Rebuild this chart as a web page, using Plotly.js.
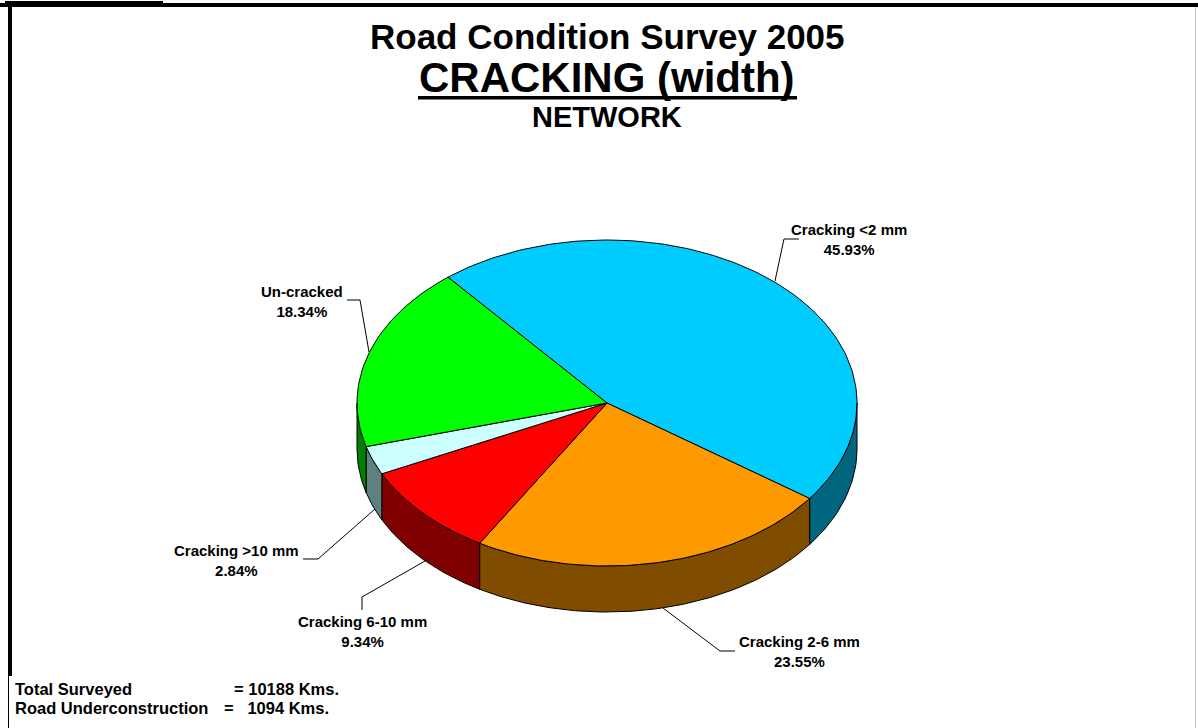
<!DOCTYPE html>
<html>
<head>
<meta charset="utf-8">
<script src="https://cdn.plot.ly/plotly-3.0.1.min.js"></script>
<style>html,body{margin:0;padding:0;background:#fff;}#chart{width:1198px;height:728px;}</style>
</head>
<body>
<div id="chart"></div>
<script>
// ---- data ----
const categories = ['Cracking <2 mm', 'Cracking 2-6 mm', 'Cracking 6-10 mm', 'Cracking >10 mm', 'Un-cracked'];
const percents = [45.93, 23.55, 9.34, 2.84, 18.34];
const topColors = ['#00CCFF', '#FF9900', '#FF0000', '#CCFFFF', '#00FF00'];
const sideColors = ['#006680', '#7F4C00', '#800000', '#5F8080', '#008000'];
const titleLines = ['Road Condition Survey 2005', 'CRACKING (width)', 'NETWORK'];
const footerLabels = ['Total Surveyed', 'Road Underconstruction'];
const footerValues = ['= 10188 Kms.', '=   1094 Kms.'];

// ---- geometry (pixels of the 1198x728 page) ----
const W = 1198, H = 728;
const CX = 607, CY = 403, R = 250, K = 163 / 250, DEPTH = 46 / 250, START = 129.5;
const ux = p => (p - CX) / R;
const uy = p => (CY - p) / R;
const deg = Math.PI / 180;

// label placement: text centre and leader polyline (pixels)
const labelGeom = [
  {tx: 849, ty: 240, line: [[775, 281], [784, 239], [799, 239]]},
  {tx: 799, ty: 651, line: [[663, 608], [720, 651], [735, 651]]},
  {tx: 362, ty: 631, line: [[425, 561], [362, 597], [362, 610]]},
  {tx: 237, ty: 560, line: [[375, 509], [318, 559], [303, 559]]},
  {tx: 302, ty: 301, line: [[369, 352], [360, 300], [347, 300]]}
];

const traces = [];
const sideTraces = [];
const topTraces = [];
let cum = 0;
const total = percents.reduce((a, b) => a + b, 0);
percents.forEach((v, i) => {
  const a1 = START - cum / total * 360;
  const a2 = a1 - v / total * 360;
  cum += v;
  // top face
  const xs = [0], ys = [0];
  const n = Math.max(2, Math.ceil((a1 - a2)));
  for (let j = 0; j <= n; j++) {
    const t = (a1 - (a1 - a2) * j / n) * deg;
    xs.push(Math.cos(t)); ys.push(K * Math.sin(t));
  }
  xs.push(0); ys.push(0);
  topTraces.push({type: 'scatter', mode: 'lines', x: xs, y: ys, fill: 'toself',
    fillcolor: topColors[i], line: {color: '#000', width: 1}, hoverinfo: 'skip', name: categories[i]});
  // visible front side wall
  const hi = Math.min(a1, 0), lo = Math.max(a2, -180);
  if (lo < hi) {
    const sx = [], sy = [];
    const m = Math.max(2, Math.ceil(hi - lo));
    for (let j = 0; j <= m; j++) {
      const t = (hi - (hi - lo) * j / m) * deg;
      sx.push(Math.cos(t)); sy.push(K * Math.sin(t));
    }
    for (let j = m; j >= 0; j--) {
      const t = (hi - (hi - lo) * j / m) * deg;
      sx.push(Math.cos(t)); sy.push(K * Math.sin(t) - DEPTH);
    }
    sx.push(sx[0]); sy.push(sy[0]);
    sideTraces.push({type: 'scatter', mode: 'lines', x: sx, y: sy, fill: 'toself',
      fillcolor: sideColors[i], line: {color: '#000', width: 1}, hoverinfo: 'skip'});
  }
});
traces.push(...sideTraces, ...topTraces);
labelGeom.forEach(g => {
  traces.push({type: 'scatter', mode: 'lines', x: g.line.map(p => ux(p[0])), y: g.line.map(p => uy(p[1])),
    line: {color: '#000', width: 1}, hoverinfo: 'skip'});
});

const fx = p => p / W, fy = p => 1 - p / H;
const FONT = 'Liberation Sans, Arial, sans-serif';
const annotations = [];
categories.forEach((c, i) => {
  annotations.push({xref: 'paper', yref: 'paper', x: fx(labelGeom[i].tx), y: fy(labelGeom[i].ty),
    xanchor: 'center', yanchor: 'middle', showarrow: false, align: 'center',
    text: '<b>' + c + '<br>' + percents[i].toFixed(2) + '%</b>',
    font: {family: FONT, size: 15, color: '#000'}});
});
annotations.push({xref: 'paper', yref: 'paper', x: fx(607), y: fy(36), xanchor: 'center', yanchor: 'middle',
  showarrow: false, text: '<b>' + titleLines[0] + '</b>', font: {family: FONT, size: 35, color: '#000'}});
annotations.push({xref: 'paper', yref: 'paper', x: fx(607), y: fy(78), xanchor: 'center', yanchor: 'middle',
  showarrow: false, text: '<b>' + titleLines[1] + '</b>', font: {family: FONT, size: 42, color: '#000'}});
annotations.push({xref: 'paper', yref: 'paper', x: fx(607), y: fy(117), xanchor: 'center', yanchor: 'middle',
  showarrow: false, text: '<b>' + titleLines[2] + '</b>', font: {family: FONT, size: 29, color: '#000'}});
const footerY = [689, 708];
const footerValX = [232, 222];
footerLabels.forEach((t, i) => {
  annotations.push({xref: 'paper', yref: 'paper', x: fx(13), y: fy(footerY[i]), xanchor: 'left', yanchor: 'middle',
    showarrow: false, text: '<b>' + t + '</b>', font: {family: FONT, size: 16.5, color: '#000'}});
  annotations.push({xref: 'paper', yref: 'paper', x: fx(footerValX[i]), y: fy(footerY[i]), xanchor: 'left', yanchor: 'middle',
    showarrow: false, text: '<b>' + footerValues[i].replace(/ /g, '&nbsp;') + '</b>', font: {family: FONT, size: 16.5, color: '#000'}});
});

const rect = (x0, y0, x1, y1, col) => ({type: 'rect', xref: 'paper', yref: 'paper',
  x0: fx(x0), x1: fx(x1), y0: fy(y1), y1: fy(y0), fillcolor: col, line: {width: 0}, layer: 'above'});
const shapes = [
  rect(0, 3, 1198, 7, '#000'),
  rect(5, 1, 163, 7, '#000'),
  rect(8, 3, 12, 676, '#000'),
  rect(8, 676, 9, 728, '#000'),
  rect(1195, 7, 1196, 728, '#C0C0C0'),
  rect(418, 96, 797, 99.5, '#000')   // title underline
];

const layout = {
  width: W, height: H,
  margin: {l: 0, r: 0, t: 0, b: 0, pad: 0},
  paper_bgcolor: '#fff', plot_bgcolor: '#fff',
  showlegend: false,
  xaxis: {range: [ux(0), ux(W)], visible: false, fixedrange: true},
  yaxis: {range: [uy(H), uy(0)], visible: false, fixedrange: true},
  annotations: annotations,
  shapes: shapes
};
Plotly.newPlot('chart', traces, layout, {displayModeBar: false, staticPlot: true});
</script>
</body>
</html>
